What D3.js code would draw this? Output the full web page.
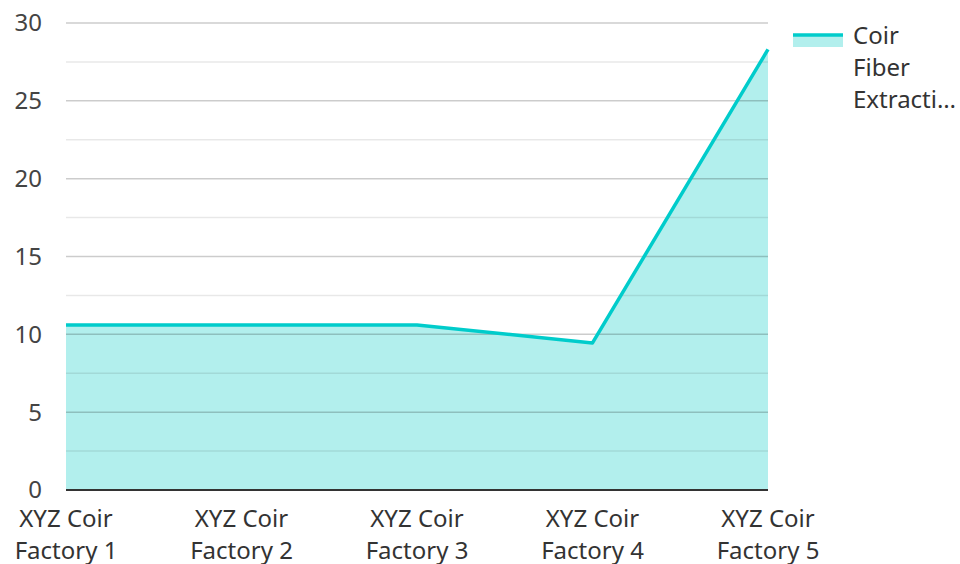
<!DOCTYPE html>
<html><head><meta charset="utf-8">
<script src="https://cdn.jsdelivr.net/npm/d3@7"></script>
<style>body{margin:0;background:#fff;}svg{display:block;font-family:"Noto Sans","Open Sans",sans-serif;}</style>
</head><body><svg id="c" width="960" height="564"></svg>
<script>
const categories = [["XYZ Coir","Factory 1"],["XYZ Coir","Factory 2"],["XYZ Coir","Factory 3"],["XYZ Coir","Factory 4"],["XYZ Coir","Factory 5"]];
const values = [10.6, 10.6, 10.6, 9.45, 28.3];
const seriesName = ["Coir","Fiber","Extracti…"];
const yTicks = [0,5,10,15,20,25,30];
const yMinor = [2.5,7.5,12.5,17.5,22.5,27.5];

const svg = d3.select("#c");
const L=66,R=768,T=23,B=490;
const x = d3.scalePoint().domain(d3.range(categories.length)).range([L,R]).padding(0);
const y = d3.scaleLinear().domain([0,30]).range([B,T]);

const fillC="#b2efed", lineC="#00cccb";

svg.append("path").datum(values)
  .attr("d", d3.area().x((d,i)=>x(i)).y0(y(0)).y1(d=>y(d)))
  .attr("fill", fillC);

svg.append("g").selectAll("line").data(yMinor).join("line")
  .attr("x1",L).attr("x2",R).attr("y1",d=>y(d)).attr("y2",d=>y(d))
  .attr("stroke","rgba(0,0,0,0.09)").attr("stroke-width",1.5);
svg.append("g").selectAll("line").data(yTicks.filter(d=>d>0)).join("line")
  .attr("x1",L).attr("x2",R).attr("y1",d=>y(d)).attr("y2",d=>y(d))
  .attr("stroke","rgba(0,0,0,0.2)").attr("stroke-width",1.5);

svg.append("path").datum(values)
  .attr("d", d3.line().x((d,i)=>x(i)).y(d=>y(d)))
  .attr("fill","none").attr("stroke",lineC).attr("stroke-width",3.5).attr("stroke-linejoin","round");

svg.append("line").attr("x1",L).attr("x2",R).attr("y1",y(0)).attr("y2",y(0))
  .attr("stroke","#333").attr("stroke-width",2);

svg.append("g").selectAll("text").data(yTicks).join("text")
  .attr("x",42).attr("y",d=>y(d)).attr("dy","0.35em").attr("text-anchor","end")
  .attr("font-size",24).attr("fill","#444").text(d=>d);

const xg = svg.append("g").selectAll("text").data(categories).join("text")
  .attr("text-anchor","middle").attr("font-size",24).attr("fill","#333");
xg.each(function(d,i){
  const t=d3.select(this);
  d.forEach((s,j)=>t.append("tspan").attr("x",x(i)).attr("y",519+j*32).attr("dy","0.35em").text(s));
});

const lg = svg.append("g");
lg.append("rect").attr("x",793).attr("y",36).attr("width",50).attr("height",11).attr("fill",fillC);
lg.append("line").attr("x1",793).attr("x2",843).attr("y1",35).attr("y2",35).attr("stroke",lineC).attr("stroke-width",3.5);
lg.selectAll("text").data(seriesName).join("text")
  .attr("x",853).attr("y",(d,i)=>36+i*32).attr("dy","0.35em")
  .attr("font-size",24).attr("fill","#333").text(d=>d);
</script></body></html>
